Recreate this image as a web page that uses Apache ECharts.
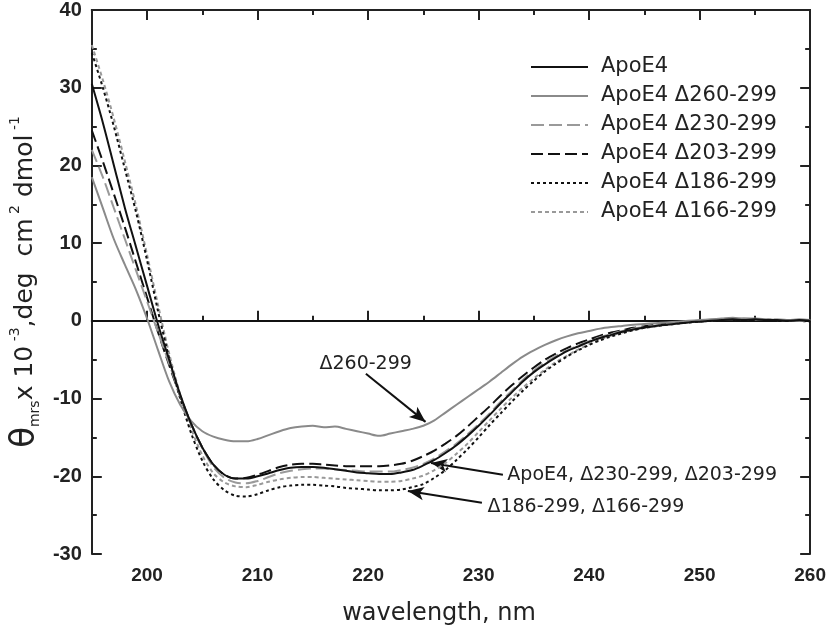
<!DOCTYPE html>
<html>
<head>
<meta charset="utf-8">
<script src="https://cdn.jsdelivr.net/npm/echarts@6/dist/echarts.min.js"></script>
<style>
  html, body { margin: 0; padding: 0; background: #fff; }
  #main { width: 829px; height: 631px; }
</style>
</head>
<body>
<div id="main"></div>
<script>
// wavelength, nm (1 nm steps)
var wavelength = [195, 196, 197, 198, 199, 200, 201, 202, 203, 204,
  205, 206, 207, 208, 209, 210, 211, 212, 213, 214,
  215, 216, 217, 218, 219, 220, 221, 222, 223, 224,
  225, 226, 227, 228, 229, 230, 231, 232, 233, 234,
  235, 236, 237, 238, 239, 240, 241, 242, 243, 244,
  245, 246, 247, 248, 249, 250, 251, 252, 253, 254,
  255, 256, 257, 258, 259, 260];

// theta_mrs x 10^-3
var apoE4 = [30.5, 25.5, 20, 14.5, 9.5, 4.5, -0.5, -5, -9.5, -13.3,
  -16.3, -18.5, -19.8, -20.3, -20.3, -20, -19.6, -19.2, -18.9, -18.8,
  -18.8, -18.9, -19.1, -19.3, -19.5, -19.6, -19.7, -19.7, -19.5, -19.2,
  -18.6, -17.9, -17.0, -16.0, -14.8, -13.5, -12.1, -10.6, -9.2, -7.8,
  -6.6, -5.6, -4.7, -3.9, -3.3, -2.7, -2.2, -1.8, -1.4, -1.1,
  -0.85, -0.65, -0.5, -0.35, -0.2, -0.1, 0, 0.1, 0.2, 0.1,
  0.2, 0.1, 0.1, 0, 0.1, 0];
var d260 = [18.5, 14.5, 10.5, 7.2, 4, 0.3, -3.8, -7.8, -10.8, -12.9,
  -14.2, -14.9, -15.3, -15.5, -15.5, -15.2, -14.7, -14.2, -13.8, -13.6,
  -13.5, -13.7, -13.6, -13.9, -14.2, -14.5, -14.8, -14.5, -14.2, -13.9,
  -13.5, -12.8, -11.8, -10.8, -9.8, -8.8, -7.8, -6.7, -5.6, -4.6,
  -3.8, -3.1, -2.5, -2.0, -1.6, -1.3, -1.0, -0.8, -0.65, -0.5,
  -0.4, -0.3, -0.2, -0.1, 0, 0.1, 0.2, 0.3, 0.4, 0.3,
  0.3, 0.2, 0.1, 0.1, 0.2, 0.1];
var d230 = [22, 18.5, 14.5, 10.5, 6.5, 2.5, -1.5, -5.5, -9.6, -13.3,
  -16.4, -18.8, -20.2, -20.8, -20.9, -20.6, -20.1, -19.6, -19.3, -19.1,
  -19.0, -19.0, -19.1, -19.2, -19.3, -19.4, -19.4, -19.4, -19.2, -18.9,
  -18.4, -17.7, -16.8, -15.8, -14.6, -13.3, -11.9, -10.4, -9.0, -7.6,
  -6.4, -5.4, -4.5, -3.8, -3.2, -2.6, -2.1, -1.7, -1.3, -1.0,
  -0.8, -0.6, -0.4, -0.3, -0.1, 0, 0.1, 0.2, 0.2, 0.3,
  0.2, 0.1, 0.2, 0.1, 0, 0.1];
var d203 = [24.5, 20.5, 16.3, 12, 7.5, 3, -1.5, -5.7, -9.7, -13.3,
  -16.3, -18.5, -19.8, -20.3, -20.2, -19.8, -19.3, -18.8, -18.5, -18.4,
  -18.4, -18.5, -18.6, -18.7, -18.7, -18.7, -18.7, -18.6, -18.4, -18.0,
  -17.4, -16.7, -15.8, -14.8, -13.6, -12.3, -11.0, -9.6, -8.3, -7.1,
  -6.0, -5.0, -4.2, -3.5, -2.9, -2.4, -1.9, -1.5, -1.2, -0.9,
  -0.7, -0.5, -0.35, -0.25, -0.1, 0, 0.1, 0, 0.1, 0.2,
  0.1, 0, 0.1, 0, 0.1, 0];
var d186 = [34.5, 30, 25, 19.5, 14, 7.8, 1.2, -4.8, -10, -14.5,
  -18, -20.4, -21.8, -22.5, -22.6, -22.3, -21.8, -21.4, -21.2, -21.1,
  -21.1, -21.2, -21.3, -21.5, -21.6, -21.7, -21.8, -21.8, -21.7, -21.4,
  -21.0, -20.2, -19.2, -17.9, -16.5, -15.0, -13.4, -11.9, -10.4, -9.0,
  -7.7, -6.5, -5.5, -4.6, -3.8, -3.1, -2.5, -2.0, -1.6, -1.2,
  -0.9, -0.7, -0.5, -0.35, -0.2, -0.1, 0, 0.1, 0, 0.1,
  0.2, 0.1, 0, 0.1, 0, -0.1];
var d166 = [35.5, 31, 26, 20.5, 14.8, 8.5, 2, -4.2, -9.5, -13.9,
  -17.3, -19.6, -20.8, -21.3, -21.4, -21.1, -20.7, -20.4, -20.2, -20.1,
  -20.1, -20.2, -20.3, -20.4, -20.5, -20.6, -20.7, -20.7, -20.6, -20.3,
  -19.9, -19.2, -18.3, -17.1, -15.8, -14.3, -12.8, -11.3, -9.9, -8.6,
  -7.4, -6.3, -5.3, -4.5, -3.7, -3.0, -2.4, -1.9, -1.5, -1.2,
  -0.9, -0.7, -0.5, -0.3, -0.2, -0.1, 0, 0.1, 0.2, 0.1,
  0.1, 0.2, 0.1, 0, 0.1, 0.1];

var seriesNames = ['ApoE4', 'ApoE4 \u0394260-299', 'ApoE4 \u0394230-299',
  'ApoE4 \u0394203-299', 'ApoE4 \u0394186-299', 'ApoE4 \u0394166-299'];
var majorX = [200, 210, 220, 230, 240, 250, 260];

function pairs(vals) {
  return wavelength.map(function (w, i) { return [w, vals[i]]; });
}

var font = "'Liberation Sans', Arial, sans-serif";
var textFont = "'DejaVu Sans', sans-serif";
var frame = { show: true, lineStyle: { color: '#222', width: 2 } };

function xAx(pos, major) {
  return {
    type: 'value', position: pos, min: 195, max: 260, interval: 5,
    axisLine: frame,
    axisTick: major
      ? { show: true, inside: true, length: 10, customValues: majorX, lineStyle: { color: '#222', width: 2 } }
      : { show: true, inside: true, length: 5, lineStyle: { color: '#222', width: 2 } },
    axisLabel: (pos === 'bottom' && major)
      ? { show: true, customValues: majorX, color: '#222', fontSize: 19, fontWeight: 'bold', fontFamily: font, margin: 12 }
      : { show: false },
    splitLine: { show: false }
  };
}

function yAx(pos) {
  return {
    type: 'value', position: pos, min: -30, max: 40, interval: 10,
    axisLine: frame,
    axisTick: { show: true, inside: true, length: 10, lineStyle: { color: '#222', width: 2 } },
    minorTick: { show: true, splitNumber: 2, length: 5, lineStyle: { color: '#222', width: 2 } },
    axisLabel: pos === 'left'
      ? { show: true, color: '#222', fontSize: 20, fontWeight: 'bold', fontFamily: font, margin: 10 }
      : { show: false },
    splitLine: { show: false }
  };
}

var xAxes = [xAx('bottom', true), xAx('bottom', false), xAx('top', true), xAx('top', false)];
xAxes[0].name = 'wavelength, nm';
xAxes[0].nameLocation = 'middle';
xAxes[0].nameGap = 48;
xAxes[0].nameTextStyle = { fontSize: 24, color: '#222', fontFamily: textFont, padding: [0, 24, 0, 0] };

var yAxes = [yAx('left'), yAx('right')];
yAxes[0].name = '{t|\u03b8}{s|mrs}{n|x 10}{p| -3}{n|,deg  cm}{p| 2}{n| dmol}{p| -1}';
yAxes[0].nameLocation = 'middle';
yAxes[0].nameRotate = 90;
yAxes[0].nameGap = 46;
yAxes[0].nameTextStyle = {
  color: '#222', fontFamily: textFont,
  rich: {
    t: { fontSize: 34, lineHeight: 34, fontFamily: textFont, color: '#222' },
    n: { fontSize: 25, lineHeight: 34, fontFamily: textFont, color: '#222' },
    s: { fontSize: 14, lineHeight: 14, verticalAlign: 'bottom', fontFamily: textFont, color: '#222' },
    p: { fontSize: 14, lineHeight: 14, verticalAlign: 'top', fontFamily: textFont, color: '#222' }
  }
};

var styles = [
  { color: '#111', type: 'solid' },
  { color: '#8a8a8a', type: 'solid' },
  { color: '#9a9a9a', type: [13, 5] },
  { color: '#111', type: [12, 5] },
  { color: '#111', type: [3, 3] },
  { color: '#999', type: [4, 3] }
];
var values = [apoE4, d260, d230, d203, d186, d166];

var series = values.map(function (v, i) {
  return {
    name: seriesNames[i], type: 'line', data: pairs(v),
    showSymbol: false, symbol: 'none', smooth: 0.3,
    lineStyle: { color: styles[i].color, width: 2, type: styles[i].type },
    itemStyle: { color: styles[i].color },
    z: 10 - i
  };
});

var arrowStyle = { color: '#111', width: 2, type: 'solid' };
function arrow(from, to) {
  return [{ coord: from, symbol: 'none' }, { coord: to, symbol: 'arrow', symbolSize: [10, 16] }];
}
function note(at, text) {
  return {
    coord: at, symbol: 'circle', symbolSize: 0,
    label: { show: true, formatter: text, position: 'right', distance: 0, fontSize: 19, color: '#222', fontFamily: textFont }
  };
}

series[0].markLine = {
  silent: true, symbol: 'none', animation: false,
  label: { show: false },
  lineStyle: arrowStyle,
  data: [
    { yAxis: 0, lineStyle: { color: '#111', width: 2, type: 'solid' } },
    arrow([219.8, -6.8], [225.2, -13.0]),
    arrow([232.2, -19.8], [225.7, -18.3]),
    arrow([230.3, -23.4], [223.6, -21.9])
  ]
};
series[0].markPoint = {
  silent: true, animation: false,
  data: [
    note([215.6, -5.6], '\u0394260-299'),
    note([232.6, -19.8], 'ApoE4, \u0394230-299, \u0394203-299'),
    note([230.8, -23.9], '\u0394186-299, \u0394166-299')
  ]
};

var chart = echarts.init(document.getElementById('main'));
chart.setOption({
  animation: false,
  backgroundColor: '#fff',
  grid: { left: 90, right: 18, top: 10, bottom: 77, containLabel: false },
  legend: {
    orient: 'vertical', left: 530, top: 56,
    itemWidth: 57, itemHeight: 22, itemGap: 7, padding: 0,
    data: seriesNames,
    itemStyle: { opacity: 0 },
    textStyle: { fontSize: 21, lineHeight: 22, color: '#222', fontFamily: textFont, padding: [0, 0, 0, 8] }
  },
  xAxis: xAxes,
  yAxis: yAxes,
  series: series
});
</script>
</body>
</html>
